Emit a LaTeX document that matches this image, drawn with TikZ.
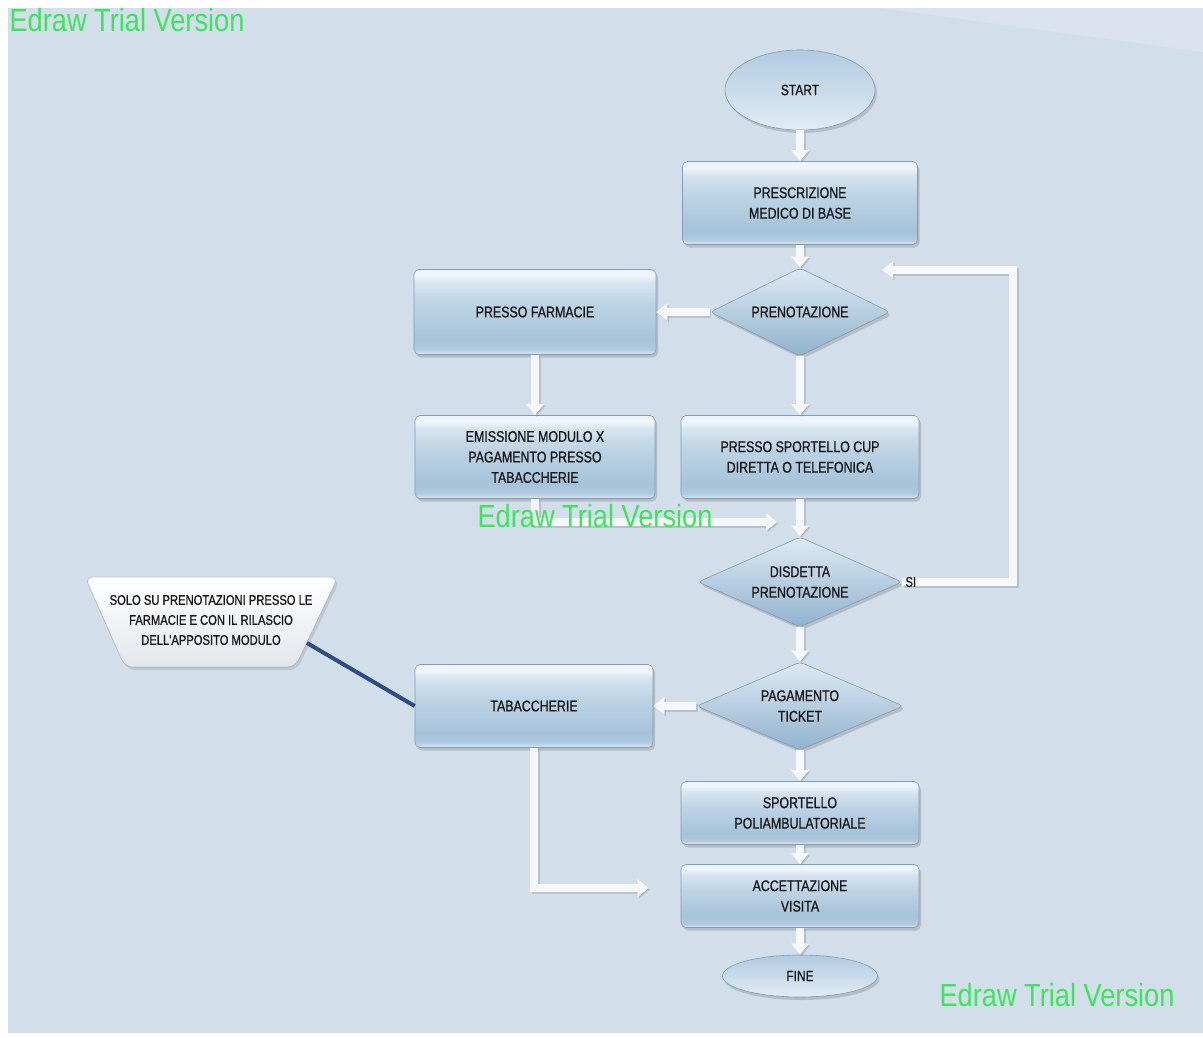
\documentclass[tikz,border=0pt]{standalone}
\usepackage{fontspec}
\usetikzlibrary{shapes.geometric, arrows.meta, shadows}

\newfontfamily\boxfont[FakeStretch=0.8, FakeBold=0.9]{Liberation Sans}
\newfontfamily\markfont[FakeStretch=0.85]{Liberation Sans}

% palette
\definecolor{bgblue}{RGB}{211,222,235}
\definecolor{boxedge}{RGB}{128,156,184}
\definecolor{glassA}{RGB}{238,244,249}
\definecolor{glassB}{RGB}{214,228,240}
\definecolor{glassC}{RGB}{190,212,229}
\definecolor{glassD}{RGB}{166,195,218}
\definecolor{glassE}{RGB}{176,202,223}
\definecolor{glassF}{RGB}{222,233,243}
\definecolor{diamTop}{RGB}{222,234,244}
\definecolor{diamBot}{RGB}{145,178,205}
\definecolor{ovalTop}{RGB}{176,203,225}
\definecolor{ovalBot}{RGB}{226,236,245}
\definecolor{flowwhite}{RGB}{246,247,249}
\definecolor{flowshade}{RGB}{140,150,162}
\definecolor{notelink}{RGB}{44,78,130}
\definecolor{noteedge}{RGB}{190,198,208}
\definecolor{noteBot}{RGB}{226,231,236}
\definecolor{trialgreen}{RGB}{60,230,90}
\definecolor{inktext}{RGB}{24,24,26}

% glossy fill of the process boxes (bottom to top)
\pgfdeclareverticalshading{glassbox}{100bp}{%
  color(0bp)=(glassF); color(25bp)=(glassF); color(28bp)=(glassE);
  color(34bp)=(glassD); color(55bp)=(glassC); color(67bp)=(glassB);
  color(71bp)=(glassA); color(100bp)=(glassA)}

\tikzset{
  stepbox/.style={rectangle, rounded corners=5pt, draw=boxedge, line width=0.6pt,
    shade, shading=glassbox,
    drop shadow={shadow xshift=2pt, shadow yshift=-3pt, opacity=0.35},
    font=\boxfont\fontsize{15.5}{20.5}\selectfont, text=inktext, align=center,
    inner sep=2pt},
  decision/.style={diamond, rounded corners=4pt, draw=boxedge, line width=0.6pt,
    top color=diamTop, bottom color=diamBot,
    drop shadow={shadow xshift=2pt, shadow yshift=-3pt, opacity=0.35},
    font=\boxfont\fontsize{15.5}{20.5}\selectfont, text=inktext, align=center,
    inner sep=0pt, aspect=2},
  terminal/.style={ellipse, draw=boxedge, line width=0.6pt,
    top color=ovalTop, bottom color=ovalBot,
    drop shadow={shadow xshift=2pt, shadow yshift=-3pt, opacity=0.35},
    font=\boxfont\fontsize{15}{20}\selectfont, text=inktext, inner sep=0pt},
  flow/.style={draw=flowwhite, line width=8pt, line cap=butt,
    -{Triangle[length=11pt,width=17pt]},
    preaction={draw=flowshade, opacity=0.4, line width=8pt,
      -{Triangle[length=11pt,width=17pt]},
      transform canvas={xshift=1.5pt,yshift=-1.5pt}}},
  trialmark/.style={font=\markfont\fontsize{32}{32}\selectfont, text=trialgreen,
    inner sep=0pt},
  small/.style={font=\boxfont\fontsize{14}{20}\selectfont, text=inktext,
    align=center, inner sep=0pt}
}

\begin{document}
\begin{tikzpicture}[x=1pt,y=-1pt]
\useasboundingbox (0,0) rectangle (1203,1037);
\fill[white] (0,0) rectangle (1203,1037);
\fill[bgblue] (8,8) rectangle (1203,1033);
\fill[white, opacity=0.15] (880,8) -- (1203,8) -- (1203,52) -- cycle;

% main column
\node[terminal, minimum width=150pt, minimum height=80pt] (start) at (800,90) {START};
\node[stepbox, minimum width=235pt, minimum height=83pt] (presc) at (800,203) {PRESCRIZIONE\\MEDICO DI BASE};
\node[decision, minimum width=180pt, minimum height=88pt] (pren) at (800,312) {PRENOTAZIONE};
\node[stepbox, minimum width=238pt, minimum height=83pt] (cup) at (800,457) {PRESSO SPORTELLO CUP\\DIRETTA O TELEFONICA};
\node[decision, minimum width=204pt, minimum height=90pt] (disd) at (800,582) {DISDETTA\\PRENOTAZIONE};
\node[decision, minimum width=207pt, minimum height=88pt] (pag) at (800,706) {PAGAMENTO\\TICKET};
\node[stepbox, minimum width=238pt, minimum height=63pt] (poli) at (800,813) {SPORTELLO\\POLIAMBULATORIALE};
\node[stepbox, minimum width=238pt, minimum height=63pt] (acc) at (800,896) {ACCETTAZIONE\\VISITA};
\node[terminal, minimum width=155pt, minimum height=42pt] (fine) at (800,976) {FINE};

% left column
\node[stepbox, minimum width=242pt, minimum height=85pt] (farm) at (535,312) {PRESSO FARMACIE};
\node[stepbox, minimum width=240pt, minimum height=83pt] (emis) at (535,457) {EMISSIONE MODULO X\\PAGAMENTO PRESSO\\TABACCHERIE};
\node[stepbox, minimum width=238pt, minimum height=83pt] (tab) at (534,706) {TABACCHERIE};

% note shape
\fill[top color=white, bottom color=noteBot, draw=noteedge, line width=0.6pt,
  rounded corners=8pt,
  drop shadow={shadow xshift=2pt, shadow yshift=-3pt, opacity=0.25}]
  (85,577) -- (338,577) -- (295,667) -- (125,667) -- cycle;
\node[small] (note) at (211,620) {SOLO SU PRENOTAZIONI PRESSO LE\\FARMACIE E CON IL RILASCIO\\DELL'APPOSITO MODULO};
\coordinate (notetip) at (307,643);

% free ends of connectors
\coordinate (joinpt) at (777,522);
\coordinate (loopturn) at (1013,270);
\coordinate (loopend) at (882,270);

% connectors
\draw[flow] (start) -- (presc);
\draw[flow] (presc) -- (pren);
\draw[flow] (pren) -- (farm);
\draw[flow] (pren) -- (cup);
\draw[flow] (farm) -- (emis);
\draw[flow] (emis.south) |- (joinpt);
\draw[flow] (cup) -- (disd);
\draw[flow] (disd.east) -| (loopturn) -- (loopend);
\draw[flow] (disd) -- (pag);
\draw[flow] (pag) -- (tab);
\draw[flow] (pag) -- (poli);
\draw[flow] (poli) -- (acc);
\draw[flow] (acc) -- (fine);
\draw[flow, shorten >=32pt] (tab.south) |- ([yshift=8pt]acc.west);
\draw[notelink, line width=4pt] (notetip) -- (tab.west);

\node[small, anchor=west] (si) at ([xshift=3pt]disd.east) {SI};

% trial watermarks
\node[trialmark] (wm1) at (127,20) {Edraw Trial Version};
\node[trialmark] (wm2) at (595,516) {Edraw Trial Version};
\node[trialmark] (wm3) at (1057,995) {Edraw Trial Version};
\end{tikzpicture}
\end{document}
